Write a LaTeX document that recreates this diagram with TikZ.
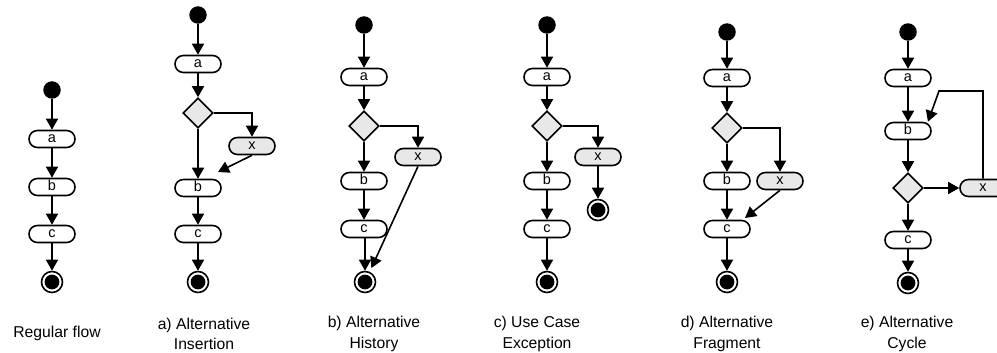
\documentclass[tikz,border=0pt]{standalone}
\usepackage{fontspec}
\setmainfont{Liberation Sans}
\usetikzlibrary{arrows.meta,shapes.geometric,calc}
\definecolor{actgray}{HTML}{E8E8E8}
\tikzset{
  flow/.style={line width=1.6pt, -{Triangle[length=11pt,width=12pt]}},
  act/.style={draw, line width=1.6pt, rounded corners=8.4pt, minimum width=46pt,
    minimum height=17pt, inner sep=0pt, fill=white, text height=7.5pt, text depth=0pt,
    font=\fontsize{14.5}{15}\selectfont},
  actx/.style={act, fill=actgray},
  choice/.style={diamond, draw, line width=1.6pt, fill=actgray, minimum width=30pt,
    minimum height=30pt, inner sep=0pt},
  initial/.style={circle, fill=black, minimum size=17.5pt, inner sep=0pt},
  final/.style={circle, draw, line width=1.6pt, minimum size=21pt, inner sep=0pt,
    path picture={\fill (path picture bounding box.center) circle (7.4pt);}},
  caption/.style={align=center, font=\fontsize{15.7}{20.5}\selectfont}
}
\begin{document}
\begin{tikzpicture}[x=1pt, y=-1pt]
\useasboundingbox (0,0) rectangle (997,353);
\clip (0,0) rectangle (997,353);

% Regular flow
\node[initial] (r0) at (52,90) {};
\node[act] (ra) at (52,139) {a};
\node[act] (rb) at (52,187) {b};
\node[act] (rc) at (52,234) {c};
\node[final] (r9) at (52,282) {};
\draw[flow] (r0) -- (ra);
\draw[flow] (ra) -- (rb);
\draw[flow] (rb) -- (rc);
\draw[flow] (rc) -- (r9);
\node[caption] (lr) at (57,333) {Regular flow};

% a) Alternative Insertion
\node[initial] (i0) at (198,15) {};
\node[act] (ia) at (198,64) {a};
\node[choice] (id) at (198,113) {};
\node[actx] (ix) at (252,146) {x};
\node[act] (ib) at (198,188) {b};
\node[act] (ic) at (198,234) {c};
\node[final] (i9) at (198,282) {};
\coordinate (iin) at (218,172);
\draw[flow] (i0) -- (ia);
\draw[flow] (ia) -- (id);
\draw[flow] (id) -- (ib);
\draw[flow] (id.east) -| (ix.north);
\draw[flow] (ix.south) -- (iin);
\draw[flow] (ib) -- (ic);
\draw[flow] (ic) -- (i9);
\node[caption] (l1) at (204,334) {a) Alternative\\Insertion};

% b) Alternative History
\node[initial] (h0) at (364,25) {};
\node[act] (ha) at (364,77) {a};
\node[choice] (hd) at (364,126) {};
\node[actx] (hx) at (418,157) {x};
\node[act] (hb) at (364,181) {b};
\node[act] (hc) at (364,229) {c};
\node[final] (h9) at (365,282) {};
\draw[flow] (h0) -- (ha);
\draw[flow] (ha) -- (hd);
\draw[flow] (hd) -- (hb);
\draw[flow] (hd.east) -| (hx.north);
\draw[flow] (hb) -- (hc);
\draw[flow] (hc.south -| h9) -- (h9);
\draw[flow, shorten >=4pt] (hx.south) -- (h9);
\node[caption] (l2) at (374,334) {b) Alternative\\History};

% c) Use Case Exception
\node[initial] (c0) at (547,25) {};
\node[act] (ca) at (547,77) {a};
\node[choice] (cd) at (547,126) {};
\node[actx] (cx) at (598,157) {x};
\node[final] (cx9) at (598,210) {};
\node[act] (cb) at (547,181) {b};
\node[act] (cc) at (547,229) {c};
\node[final] (c9) at (547,282) {};
\draw[flow] (c0) -- (ca);
\draw[flow] (ca) -- (cd);
\draw[flow] (cd) -- (cb);
\draw[flow] (cd.east) -| (cx.north);
\draw[flow] (cx) -- (cx9);
\draw[flow] (cb) -- (cc);
\draw[flow] (cc) -- (c9);
\node[caption] (l3) at (537,334) {c) Use Case\\Exception};

% d) Alternative Fragment
\node[initial] (f0) at (727,32) {};
\node[act] (fa) at (727,78) {a};
\node[choice] (fd) at (727,128) {};
\node[act] (fb) at (727,181) {b};
\node[actx] (fx) at (780,181) {x};
\node[act] (fc) at (727,229) {c};
\node[final] (f9) at (727,282) {};
\coordinate (fin) at (745,218);
\draw[flow] (f0) -- (fa);
\draw[flow] (fa) -- (fd);
\draw[flow] (fd) -- (fb);
\draw[flow] (fd.east) -| (fx.north);
\draw[flow] (fb) -- (fc);
\draw[flow] (fx.south) -- (fin);
\draw[flow] (fc) -- (f9);
\node[caption] (l4) at (727,334) {d) Alternative\\Fragment};

% e) Alternative Cycle
\node[initial] (y0) at (908,32) {};
\node[act] (ya) at (908,78) {a};
\node[act] (yb) at (908,131) {b};
\node[choice] (yd) at (908,188) {};
\node[actx] (yx) at (983,188) {x};
\node[act] (yc) at (908,240) {c};
\node[final] (y9) at (908,283) {};
\coordinate (yk) at (939,91);
\draw[flow] (y0) -- (ya);
\draw[flow] (ya) -- (yb);
\draw[flow] (yb) -- (yd);
\draw[flow] (yd) -- (yx);
\draw[flow] (yx.north) |- (yk) -- (yb.25);
\draw[flow] (yd) -- (yc);
\draw[flow] (yc) -- (y9);
\node[caption] (l5) at (907,334) {e) Alternative\\Cycle};
\end{tikzpicture}
\end{document}
